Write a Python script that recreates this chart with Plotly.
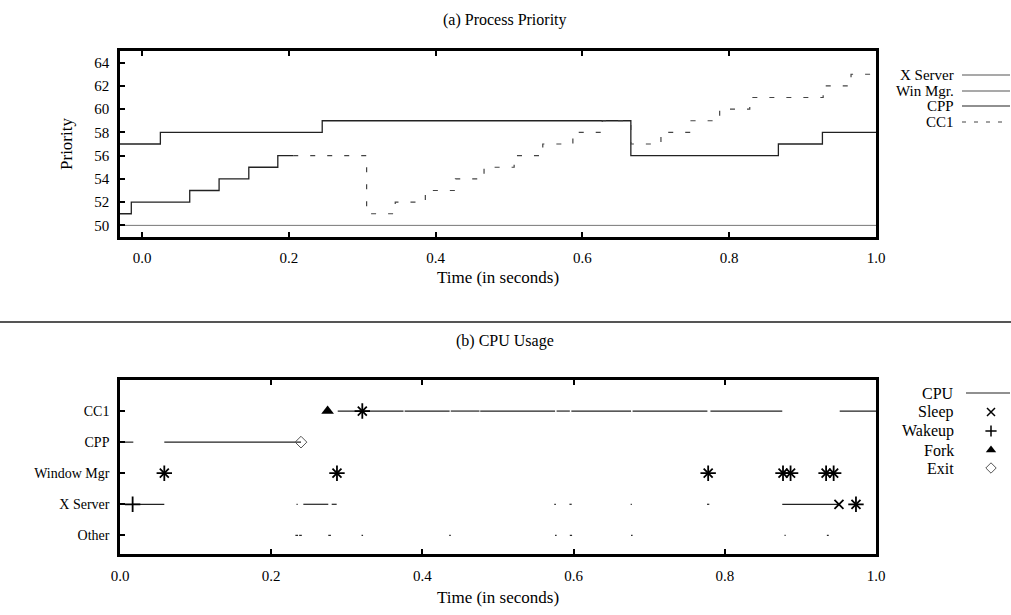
import plotly.graph_objects as go

# (a) process priority, step data (time in seconds, priority)
xserver_t = [-0.03, 1.0]
xserver_pri = [50, 50]
winmgr_t = [-0.03, 0.025, 0.2455, 0.666, 0.867, 0.927, 1.0]
winmgr_pri = [57, 58, 59, 56, 57, 58, 58]
cpp_t = [-0.03, -0.0146, 0.065, 0.105, 0.1455, 0.185, 0.206]
cpp_pri = [51, 52, 53, 54, 55, 56, 56]
cc1_t = [0.206, 0.306, 0.345, 0.386, 0.427, 0.466, 0.507, 0.546, 0.587, 0.627,
         0.666, 0.707, 0.748, 0.787, 0.828, 0.928, 0.966, 1.0]
cc1_pri = [56, 51, 52, 53, 54, 55, 56, 57, 58, 59, 57, 58, 59, 60, 61, 62, 63, 63]

# (b) cpu usage
procs = ["Other", "X Server", "Window Mgr", "CPP", "CC1"]
cc1_runs = [(0.288, 0.375), (0.3765, 0.436), (0.4375, 0.4755), (0.4765, 0.5755),
            (0.5775, 0.595), (0.597, 0.676), (0.678, 0.777), (0.781, 0.876),
            (0.952, 1.0)]
cpp_runs = [(0.0, 0.0176), (0.0586, 0.2394)]
winmgr_runs = []
xserver_runs = [(0.0167, 0.0586), (0.2335, 0.235), (0.2425, 0.2755), (0.280, 0.2866),
                (0.5745, 0.5765), (0.5945, 0.5975), (0.6755, 0.677), (0.7765, 0.7795),
                (0.876, 0.951)]
other_runs = [(0.232, 0.2355), (0.237, 0.2405), (0.2755, 0.279), (0.3195, 0.3215),
              (0.4355, 0.4375), (0.5755, 0.5775), (0.595, 0.598), (0.676, 0.678),
              (0.879, 0.8805), (0.935, 0.9375)]

sleep_t = [0.3205, 0.0586, 0.287, 0.778, 0.877, 0.887, 0.934, 0.944, 0.951, 0.9735]
sleep_proc = ["CC1", "Window Mgr", "Window Mgr", "Window Mgr", "Window Mgr", "Window Mgr",
              "Window Mgr", "Window Mgr", "X Server", "X Server"]
wakeup_t = [0.0167, 0.3205, 0.0586, 0.287, 0.778, 0.877, 0.887, 0.934, 0.944, 0.9735]
wakeup_proc = ["X Server", "CC1", "Window Mgr", "Window Mgr", "Window Mgr", "Window Mgr",
               "Window Mgr", "Window Mgr", "Window Mgr", "X Server"]
fork_t = [0.2746]
fork_proc = ["CC1"]
exit_t = [0.2394]
exit_proc = ["CPP"]

FONT = "Liberation Serif"
W, H = 1011, 615


def row(p):
    return procs.index(p)


def runs_xy(runs, p):
    xs, ys = [], []
    for a, b in runs:
        xs += [a, b, None]
        ys += [row(p), row(p), None]
    return xs, ys


fig = go.Figure()

# top panel lines
fig.add_trace(go.Scatter(x=xserver_t, y=xserver_pri, mode='lines', line_shape='hv',
                         line=dict(color='#777', width=1), xaxis='x', yaxis='y'))
fig.add_trace(go.Scatter(x=winmgr_t, y=winmgr_pri, mode='lines', line_shape='hv',
                         line=dict(color='#222', width=1.3), xaxis='x', yaxis='y'))
fig.add_trace(go.Scatter(x=cpp_t, y=cpp_pri, mode='lines', line_shape='hv',
                         line=dict(color='#222', width=1.3), xaxis='x', yaxis='y'))
fig.add_trace(go.Scatter(x=cc1_t, y=cc1_pri, mode='lines', line_shape='hv',
                         line=dict(color='#444', width=1.2, dash='5px,12px'),
                         xaxis='x', yaxis='y'))

# bottom panel cpu runs
allx, ally = [], []
for runs, p in [(cc1_runs, "CC1"), (cpp_runs, "CPP"), (winmgr_runs, "Window Mgr"),
                (xserver_runs, "X Server"), (other_runs, "Other")]:
    xs, ys = runs_xy(runs, p)
    allx += xs
    ally += ys
fig.add_trace(go.Scatter(x=allx, y=ally, mode='lines', line=dict(color='#222', width=1.2),
                         xaxis='x2', yaxis='y2'))

# events (sleep + wakeup at the same instant draw as an asterisk)
ev_style = [
    (sleep_t, sleep_proc, dict(symbol='x-thin', size=9, line=dict(color='black', width=1.8))),
    (wakeup_t, wakeup_proc, dict(symbol='cross-thin', size=11, line=dict(color='black', width=1.8))),
    (fork_t, fork_proc, dict(symbol='triangle-up', size=11, color='black')),
    (exit_t, exit_proc, dict(symbol='diamond-open', size=9, color='#555', line=dict(width=1))),
]
for t, pr, mk in ev_style:
    fig.add_trace(go.Scatter(x=t, y=[row(p) for p in pr], mode='markers', marker=mk,
                             xaxis='x2', yaxis='y2'))

key_marks = [
    dict(symbol='x-thin', size=8, line=dict(color='black', width=1.5)),
    dict(symbol='cross-thin', size=8, line=dict(color='black', width=1.5)),
    dict(symbol='triangle-up', size=9, color='black'),
    dict(symbol='diamond-open', size=8, color='#555', line=dict(width=1)),
]

# legends (gnuplot style key: text then sample), drawn on a pixel helper axis
top_keys = ["X Server", "Win Mgr.", "CPP", "CC1"]
top_key_y = [75, 91, 106, 122]
top_key_dash = ['solid', 'solid', 'solid', '4px,8px']
top_key_col = ['#555', '#555', '#222', '#444']
for lab, ky, dsh, col in zip(top_keys, top_key_y, top_key_dash, top_key_col):
    fig.add_trace(go.Scatter(x=[962, 1010], y=[ky, ky], mode='lines',
                             line=dict(color=col, width=1.2, dash=dsh),
                             xaxis='x3', yaxis='y3'))
    fig.add_annotation(text=lab, x=956, y=ky, xref='x3', yref='y3', xanchor='right',
                       showarrow=False, font=dict(family=FONT, size=15, color='black'))

bot_keys = ["CPU", "Sleep", "Wakeup", "Fork", "Exit"]
bot_key_y = [393, 412, 431, 450, 468]
for lab, ky in zip(bot_keys, bot_key_y):
    fig.add_annotation(text=lab, x=956, y=ky, xref='x3', yref='y3', xanchor='right',
                       showarrow=False, font=dict(family=FONT, size=16, color='black'))
fig.add_trace(go.Scatter(x=[966, 1010], y=[bot_key_y[0]] * 2, mode='lines',
                         line=dict(color='#222', width=1.2), xaxis='x3', yaxis='y3'))
for mk, ky in zip(key_marks, bot_key_y[1:]):
    fig.add_trace(go.Scatter(x=[991], y=[ky], mode='markers', marker=mk,
                             xaxis='x3', yaxis='y3'))

# titles and separator
fig.add_annotation(text="(a) Process Priority", x=505, y=20, xref='x3', yref='y3',
                   showarrow=False, font=dict(family=FONT, size=16, color='black'))
fig.add_annotation(text="(b) CPU Usage", x=505, y=341, xref='x3', yref='y3',
                   showarrow=False, font=dict(family=FONT, size=16, color='black'))
fig.add_shape(type='line', xref='paper', yref='paper', x0=0, x1=1,
              y0=1 - 322 / H, y1=1 - 322 / H, line=dict(color='#555', width=2))

dom_x = [120 / W, 876 / W]
axis_common = dict(showline=True, linewidth=2.5, linecolor='black', mirror=True,
                   ticks='inside', ticklen=5, tickwidth=2, tickcolor='black',
                   showgrid=False, zeroline=False, automargin=False,
                   tickfont=dict(family=FONT, size=15, color='black'))
title_font = dict(family=FONT, size=17, color='black')

fig.update_layout(
    width=W, height=H,
    margin=dict(l=0, r=0, t=0, b=0, autoexpand=False),
    paper_bgcolor='white', plot_bgcolor='rgba(0,0,0,0)',
    showlegend=False,
    xaxis=dict(axis_common, domain=dom_x, anchor='y', range=[-0.03, 1.0],
               tickvals=[0, 0.2, 0.4, 0.6, 0.8, 1.0], tickformat='.1f', mirror='ticks',
               ticklabelstandoff=5,
               title=dict(text='Time (in seconds)', standoff=7, font=title_font)),
    yaxis=dict(axis_common, domain=[1 - 237 / H, 1 - 51 / H], anchor='x', range=[49, 65],
               tickvals=list(range(50, 65, 2)), ticklabelstandoff=5,
               title=dict(text='Priority', standoff=18, font=title_font)),
    xaxis2=dict(axis_common, domain=dom_x, anchor='y2', range=[0, 1.0],
                tickvals=[0, 0.2, 0.4, 0.6, 0.8, 1.0], tickformat='.1f', mirror='ticks',
                ticklabelstandoff=6,
                title=dict(text='Time (in seconds)', standoff=9, font=title_font)),
    yaxis2=dict(axis_common, domain=[1 - 554 / H, 1 - 380 / H], anchor='x2', range=[-0.6, 5],
                tickvals=list(range(len(procs))), ticktext=procs, ticklabelstandoff=5,
                tickfont=dict(family=FONT, size=14, color='black')),
    xaxis3=dict(domain=[0, 1], range=[0, W], visible=False, anchor='y3', fixedrange=True),
    yaxis3=dict(domain=[0, 1], range=[H, 0], visible=False, anchor='x3', fixedrange=True),
)

fig.write_html("out.html", config={'displayModeBar': False},
               post_script="document.body.style.margin='0';")
